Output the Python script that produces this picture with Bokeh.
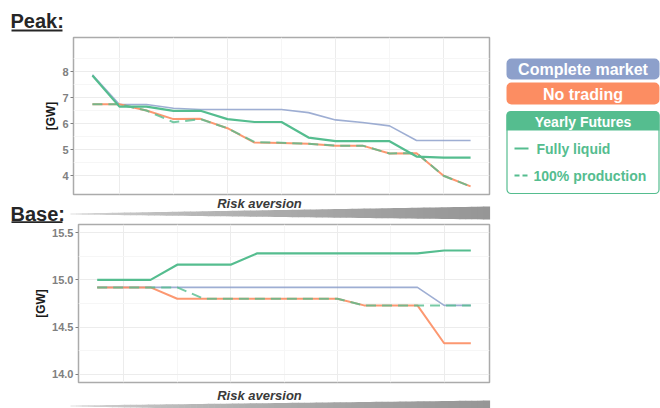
from bokeh.plotting import figure
from bokeh.models import Range1d, FixedTicker, NumeralTickFormatter
from bokeh.layouts import row, column
from bokeh.embed import file_html
from bokeh.resources import INLINE
from bokeh.core.properties import value

# ---- data -------------------------------------------------------------
risk_steps = list(range(1, 16))

peak_complete = [7.88, 6.73, 6.73, 6.59, 6.54, 6.54, 6.54, 6.54, 6.42, 6.14, 6.04, 5.91, 5.35, 5.35, 5.35]
peak_no_trading = [6.74, 6.74, 6.50, 6.17, 6.18, 5.82, 5.27, 5.25, 5.22, 5.15, 5.15, 4.85, 4.86, 3.99, 3.58]
peak_fut_liquid = [7.85, 6.65, 6.65, 6.49, 6.49, 6.17, 6.06, 6.06, 5.46, 5.32, 5.32, 5.32, 4.73, 4.69, 4.69]
peak_fut_production = [6.74, 6.74, 6.50, 6.05, 6.17, 5.82, 5.29, 5.26, 5.22, 5.15, 5.15, 4.85, 4.86, 3.99, 3.58]

base_complete = [14.92, 14.92, 14.92, 14.92, 14.92, 14.92, 14.92, 14.92, 14.92, 14.92, 14.92, 14.92, 14.92, 14.73, 14.73]
base_no_trading = [14.92, 14.92, 14.92, 14.80, 14.80, 14.80, 14.80, 14.80, 14.80, 14.80, 14.73, 14.73, 14.73, 14.33, 14.33]
base_fut_liquid = [15.00, 15.00, 15.00, 15.16, 15.16, 15.16, 15.28, 15.28, 15.28, 15.28, 15.28, 15.28, 15.28, 15.31, 15.31]
base_fut_production = [14.92, 14.92, 14.92, 14.92, 14.80, 14.80, 14.80, 14.80, 14.80, 14.80, 14.73, 14.73, 14.73, 14.73, 14.73]

peak_ticks = [4, 5, 6, 7, 8]
base_ticks = [14.0, 14.5, 15.0, 15.5]

legend_labels = ["Complete market", "No trading", "Yearly Futures", "Fully liquid", "100% production"]
panel_titles = ["Peak:", "Base:"]
x_title = "Risk aversion"
y_title = "[GW]"

# ---- style ------------------------------------------------------------
BLUE = "#8DA0CB"
ORANGE = "#FC8D62"
GREEN = "#55BD8F"
FONT = "Liberation Sans"
TOTAL_W = 500


def blank(height, y_top, width=TOTAL_W, x_left=0):
    """A figure without axes whose data space equals page pixels."""
    p = figure(width=width, height=height,
               x_range=Range1d(x_left, x_left + width),
               y_range=Range1d(y_top + height, y_top),
               x_axis_location=None, y_axis_location=None,
               min_border=0, outline_line_color=None, frame_align=False,
               toolbar_location=None, output_backend="svg",
               background_fill_color="white", border_fill_color="white")
    p.grid.visible = False
    return p


def panel(height, border_left, y_range, ticks, minor, fmt=None, top=2, bottom=3):
    p = figure(width=TOTAL_W, height=height,
               x_range=Range1d(0.3, 15.7), y_range=y_range,
               x_axis_location=None, y_axis_location="left",
               min_border_left=border_left, min_border_right=11,
               min_border_top=top, min_border_bottom=bottom, frame_align=False,
               toolbar_location=None, output_backend="svg",
               background_fill_color="white", border_fill_color="white",
               outline_line_color="#ababab", outline_line_width=1.5)
    ax = p.yaxis[0]
    ax.ticker = FixedTicker(ticks=ticks)
    if fmt:
        ax.formatter = NumeralTickFormatter(format=fmt)
    ax.axis_label = y_title
    ax.axis_label_text_font = FONT
    ax.axis_label_text_font_style = "bold"
    ax.axis_label_text_font_size = "12px"
    ax.axis_label_text_color = "#1a1a1a"
    ax.axis_label_standoff = 1
    ax.major_label_text_font = FONT
    ax.major_label_text_font_style = "bold"
    ax.major_label_text_font_size = "11px"
    ax.major_label_text_color = "#808080"
    ax.major_label_standoff = 2
    ax.axis_line_color = None
    ax.major_tick_line_color = "#808080"
    ax.major_tick_in = 0
    ax.major_tick_out = 3
    ax.minor_tick_line_color = None

    p.ygrid.ticker = FixedTicker(ticks=ticks, minor_ticks=minor)
    p.ygrid.grid_line_color = "#ececec"
    p.ygrid.minor_grid_line_color = "#f6f6f6"
    p.xgrid.ticker = FixedTicker(ticks=[2, 6, 10, 14], minor_ticks=[4, 8, 12])
    p.xgrid.grid_line_color = "#ececec"
    p.xgrid.minor_grid_line_color = "#f6f6f6"
    return p


def draw_series(p, complete, no_trading, liquid, production):
    p.line(risk_steps, complete, line_color=BLUE, line_width=1.6, line_alpha=0.85)
    p.line(risk_steps, no_trading, line_color=ORANGE, line_width=2, line_alpha=0.9)
    p.line(risk_steps, liquid, line_color=GREEN, line_width=2.2)
    p.line(risk_steps, production, line_color=GREEN, line_width=2,
           line_dash="10 6", line_alpha=0.8)


def title_text(p, label, x, y_mid, y_line):
    p.text(x=[x], y=[y_mid], text=[label], text_font=value(FONT),
           text_font_style="bold", text_font_size="20px", text_color="#262626",
           text_align="left", text_baseline="middle")
    p.line([x + 1, x + 52], [y_line, y_line], line_color="#262626", line_width=1.8)


def x_caption(p, y_mid, x_mid=259):
    p.text(x=[x_mid], y=[y_mid], text=[x_title], text_font=value(FONT),
           text_font_style="bold italic", text_font_size="13px", text_color="#3a3a3a",
           text_align="center", text_baseline="middle")


def wedge(p, x0, x1, top0, top1, bot0, bot1, n=70):
    xs, ys, colors = [], [], []
    for i in range(n):
        a = x0 + (x1 - x0) * i / n
        b = x0 + (x1 - x0) * (i + 1) / n
        ta = top0 + (top1 - top0) * (a - x0) / (x1 - x0)
        tb = top0 + (top1 - top0) * (b - x0) / (x1 - x0)
        ba = bot0 + (bot1 - bot0) * (a - x0) / (x1 - x0)
        bb = bot0 + (bot1 - bot0) * (b - x0) / (x1 - x0)
        xs.append([a, b + 0.6, b + 0.6, a])
        ys.append([ta, tb, bb, ba])
        t = (i + 0.5) / n
        g = int(round(236 - 86 * t ** 0.4))
        colors.append("#%02x%02x%02x" % (g, g, g))
    p.patches(xs, ys, fill_color=colors, line_color=None)


# ---- top title strip --------------------------------------------------
fig_top = blank(35, 0)
title_text(fig_top, panel_titles[0], 10, 20, 30)

# ---- peak panel -------------------------------------------------------
fig_peak = panel(162, 73, Range1d(3.27, 9.31), peak_ticks,
                 [4.5, 5.5, 6.5, 7.5, 8.5])
draw_series(fig_peak, peak_complete, peak_no_trading, peak_fut_liquid, peak_fut_production)

# ---- strip between panels ---------------------------------------------
fig_mid = blank(26, 197)
wedge(fig_mid, 70, 489, 213, 206, 214, 219)
x_caption(fig_mid, 203)
title_text(fig_mid, panel_titles[1], 10, 213, 221.6)

# ---- base panel -------------------------------------------------------
fig_base = panel(162, 78, Range1d(13.915, 15.585), base_ticks,
                 [14.25, 14.75, 15.25], fmt="0.0", top=1, bottom=3)
draw_series(fig_base, base_complete, base_no_trading, base_fut_liquid, base_fut_production)

# ---- bottom strip -----------------------------------------------------
fig_bot = blank(23, 385)
wedge(fig_bot, 70, 489, 405, 400, 406, 413)
x_caption(fig_bot, 395)

# ---- legend panel -----------------------------------------------------
fig_leg = blank(408, 0, width=160, x_left=500)
fig_leg.quad(left=[506], right=[659], top=[58], bottom=[79], fill_color=BLUE,
             line_color=None, border_radius=5)
fig_leg.quad(left=[506], right=[659], top=[82], bottom=[104], fill_color=ORANGE,
             line_color=None, border_radius=5)
fig_leg.quad(left=[506.5], right=[658.5], top=[111], bottom=[193], fill_color="white",
             line_color=GREEN, line_width=1.2, border_radius=4)
fig_leg.quad(left=[506], right=[659], top=[111], bottom=[130], fill_color=GREEN,
             line_color=None, border_radius=(4, 4, 0, 0))
fig_leg.text(x=[582.5, 582.5], y=[69, 93.5], text=legend_labels[:2], text_font=value(FONT),
             text_font_style="bold", text_font_size="16px", text_color="white",
             text_align="center", text_baseline="middle")
fig_leg.text(x=[582.5], y=[121], text=[legend_labels[2]], text_font=value(FONT),
             text_font_style="bold", text_font_size="14px", text_color="white",
             text_align="center", text_baseline="middle")
fig_leg.line([514, 528], [148, 148], line_color=GREEN, line_width=2)
fig_leg.line([514, 530], [175, 175], line_color=GREEN, line_width=2, line_dash="5 3")
fig_leg.text(x=[536, 533], y=[148, 175], text=legend_labels[3:], text_font=value(FONT),
             text_font_style="bold", text_font_size="14px", text_color=GREEN,
             text_align="left", text_baseline="middle")

layout = row(column(fig_top, fig_peak, fig_mid, fig_base, fig_bot), fig_leg)

with open("out.html", "w") as f:
    f.write(file_html(layout, INLINE))
